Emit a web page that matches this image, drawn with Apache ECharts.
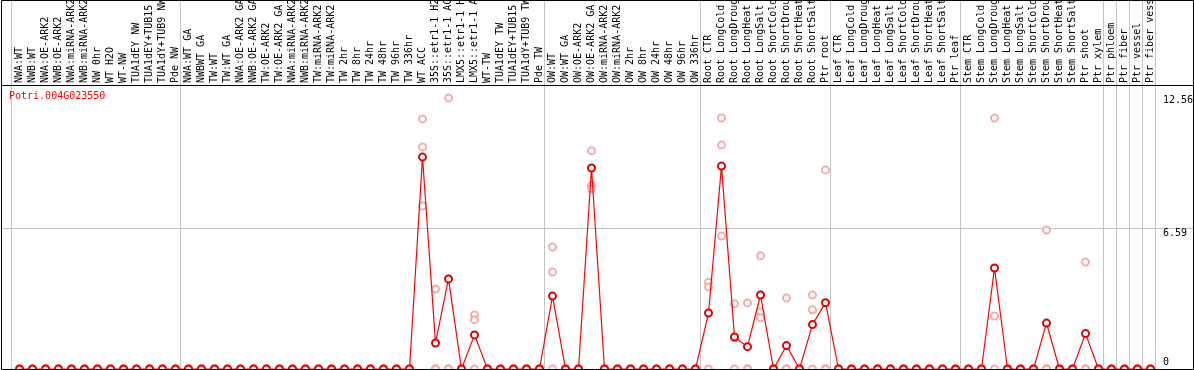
<!DOCTYPE html>
<html><head><meta charset="utf-8">
<script src="https://cdn.jsdelivr.net/npm/echarts@6/dist/echarts.min.js"></script>
<style>html,body{margin:0;padding:0;background:#fff}#c{width:1194px;height:370px}</style>
</head><body><div id="c"></div>
<script>
const geneName = 'Potri.004G023550';

const categories = [
  'NWA:WT','NWB:WT','NWA:OE-ARK2','NWB:OE-ARK2','NWA:miRNA-ARK2','NWB:miRNA-ARK2','NW 0hr','WT H2O','WT-NW','TUA1dEY NW','TUA1dEY+TUB15 NW','TUA1dY+TUB9 NW','Pde NW',
  'NWA:WT GA','NWBWT GA','TW:WT','TW:WT GA','NWA:OE-ARK2 GA','NWB:OE-ARK2 GA','TW:OE-ARK2','TW:OE-ARK2 GA','NWA:miRNA-ARK2','NWB:miRNA-ARK2','TW:miRNA-ARK2','TW:miRNA-ARK2','TW 2hr','TW 8hr','TW 24hr','TW 48hr','TW 96hr','TW 336hr','WT ACC','35S::etr1-1 H2O','35S::etr1-1 ACC','LMX5::etr1-1 H2O','LMX5::etr1-1 ACC','WT-TW','TUA1dEY TW','TUA1dEY+TUB15 TW','TUA1dY+TUB9 TW','Pde TW',
  'OW:WT','OW:WT GA','OW:OE-ARK2','OW:OE-ARK2 GA','OW:miRNA-ARK2','OW:miRNA-ARK2','OW 2hr','OW 8hr','OW 24hr','OW 48hr','OW 96hr','OW 336hr',
  'Root CTR','Root LongCold','Root LongDrought','Root LongHeat','Root LongSalt','Root ShortCold','Root ShortDrought','Root ShortHeat','Root ShortSalt','Ptr root',
  'Leaf CTR','Leaf LongCold','Leaf LongDrought','Leaf LongHeat','Leaf LongSalt','Leaf ShortCold','Leaf ShortDrought','Leaf ShortHeat','Leaf ShortSalt','Ptr leaf',
  'Stem CTR','Stem LongCold','Stem LongDrought','Stem LongHeat','Stem LongSalt','Stem ShortCold','Stem ShortDrought','Stem ShortHeat','Stem ShortSalt','Ptr shoot','Ptr xylem',
  'Ptr phloem','Ptr fiber','Ptr vessel','Ptr fiber vessel'
];

const meanValues = [
  0,0,0,0,0,0,0,0,0,0,0,0,0,
  0,0,0,0,0,0,0,0,0,0,0,0,0,0,0,0,0,0, 9.88,1.21,4.20,0,1.59, 0,0,0,0,0,
  3.40,0,0,9.37,0,0,0,0,0,0,0,0,
  2.61,9.46,1.49,1.04,3.45,0,1.09,0,2.07,3.09,
  0,0,0,0,0,0,0,0,0,0,
  0,0,4.71,0,0,0,2.14,0,0,1.65,0,
  0,0,0,0
];
const rep1 = [
  0,0,0,0,0,0,0,0,0,0,0,0,0,
  0,0,0,0,0,0,0,0,0,0,0,0,0,0,0,0,0,0, 11.66,3.73,12.63,0,2.52, 0,0,0,0,0,
  5.69,0,0,10.18,0,0,0,0,0,0,0,0,
  4.04,11.70,3.04,3.08,5.28,0,3.31,0,3.45,9.28,
  0,0,0,0,0,0,0,0,0,0,
  0,0,11.70,0,0,0,6.48,0,0,4.99,0,
  0,0,0,0
];
const rep2 = [
  0,0,0,0,0,0,0,0,0,0,0,0,0,
  0,0,0,0,0,0,0,0,0,0,0,0,0,0,0,0,0,0, 10.35,0,0,0,2.30, 0,0,0,0,0,
  4.52,0,0,8.55,0,0,0,0,0,0,0,0,
  3.82,10.44,1.45,0,2.66,0,0,0,2.76,0,
  0,0,0,0,0,0,0,0,0,0,
  0,0,2.47,0,0,0,0,0,0,0,0,
  0,0,0,0
];
const rep3 = [
  0,0,0,0,0,0,0,0,0,0,0,0,0,
  0,0,0,0,0,0,0,0,0,0,0,0,0,0,0,0,0,0, 7.60,0,0,0,0, 0,0,0,0,0,
  0,0,0,8.40,0,0,0,0,0,0,0,0,
  0,6.20,0,0,2.39,0,0,0,0,0,
  0,0,0,0,0,0,0,0,0,0,
  0,0,0,0,0,0,0,0,0,0,0,
  0,0,0,0
];
const groupBoundaries = [0, 13, 41, 53, 63, 73, 84, 85, 86, 87, 88];
const yTickValues = [0, 6.59, 12.56];
const yGridValues = [6.59];

const FONT = '10px "DejaVu Sans Mono", monospace';
const chart = echarts.init(document.getElementById('c'), null, {renderer: 'canvas'});

const repData = [];
[rep1, rep2, rep3].forEach(r => r.forEach((v, i) => repData.push([i, v])));

const option = {
  animation: false,
  grid: {left: 13, right: 37, top: 85, bottom: 1, containLabel: false, outerBoundsMode: 'none'},
  xAxis: [
    {type: 'category', data: categories, position: 'top', boundaryGap: true,
     axisLine: {show: false}, axisTick: {show: false}, splitLine: {show: false},
     axisLabel: {rotate: 90, interval: 0, margin: 2, hideOverlap: false, fontFamily: '"DejaVu Sans Mono", monospace', fontSize: 10, color: '#000'}},
    {type: 'value', min: 0, max: categories.length, show: false}
  ],
  yAxis: {type: 'value', min: 0, max: 13.24, show: false},
  graphic: [
    {type: 'rect', z: 100, silent: true, shape: {x: 1.5, y: 0.5, width: 1192, height: 369}, style: {fill: 'none', stroke: '#000', lineWidth: 1}},
    {type: 'line', z: 100, silent: true, shape: {x1: 1, y1: 85.5, x2: 1194, y2: 85.5}, style: {stroke: '#000', lineWidth: 1}},
    {type: 'text', z: 100, silent: true, style: {x: 9, y: 96.5, text: geneName, fill: '#ff0000', font: FONT, align: 'left', verticalAlign: 'middle'}}
  ],
  series: [
    {
      type: 'custom', xAxisIndex: 1, clip: false, silent: true, z: 1,
      data: groupBoundaries.map(k => [k, 0]),
      renderItem: (params, api) => {
        const x = Math.round(api.coord([api.value(0), 0])[0]) - 1.5;
        return {type: 'line', shape: {x1: x, y1: 0, x2: x, y2: 369}, style: {stroke: '#c4c4c4', lineWidth: 1}};
      }
    },
    {
      type: 'custom', xAxisIndex: 1, clip: false, silent: true, z: 1,
      data: yTickValues.map(v => [0, v]),
      renderItem: (params, api) => {
        const v = api.value(1);
        const y = Math.round(api.coord([0, v])[1]);
        const children = [];
        if (yGridValues.indexOf(v) >= 0) {
          children.push({type: 'line', shape: {x1: 1, y1: y + 0.5, x2: 1193, y2: y + 0.5}, style: {stroke: '#c4c4c4', lineWidth: 1}});
        }
        let va = 'top', ty = y;
        if (v === 0) { va = 'bottom'; ty = y - 2; }
        else if (v === Math.max.apply(null, yTickValues)) { va = 'middle'; ty = y; }
        children.push({type: 'text', style: {x: 1163, y: ty, text: String(v), fill: '#000', font: FONT, align: 'left', verticalAlign: va}});
        return {type: 'group', children: children};
      }
    },
    {
      type: 'scatter', name: 'replicates', data: repData, z: 2,
      symbol: 'emptyCircle', symbolSize: 7,
      itemStyle: {color: '#ee9a9a', borderColor: '#ee9a9a', borderWidth: 1.2}
    },
    {
      type: 'line', name: 'mean', data: meanValues, z: 3,
      symbol: 'emptyCircle', symbolSize: 7, showAllSymbol: true,
      lineStyle: {color: '#ff0000', width: 1.2},
      itemStyle: {color: '#e00000', borderColor: '#d00000', borderWidth: 1.5}
    }
  ]
};
chart.setOption(option);
</script>
</body></html>
